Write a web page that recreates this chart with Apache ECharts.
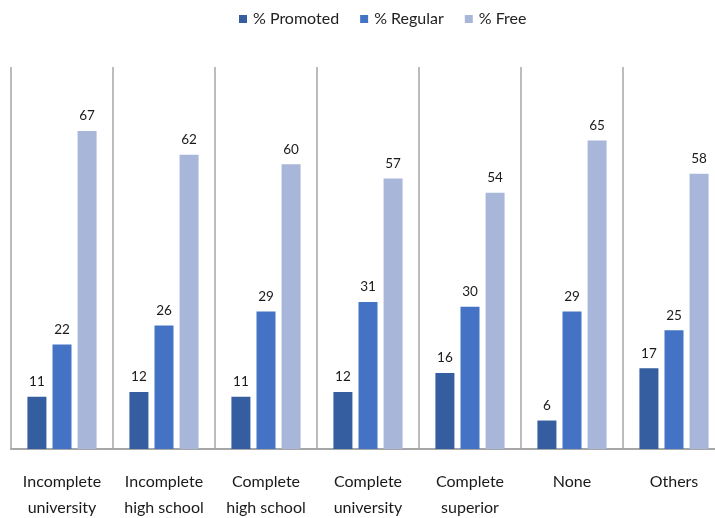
<!DOCTYPE html>
<html><head><meta charset="utf-8">
<script src="https://cdn.jsdelivr.net/npm/echarts@6/dist/echarts.min.js"></script>
<style>html,body{margin:0;padding:0;background:#fff}#c{width:715px;height:518px}</style>
</head><body><div id="c"></div>
<script>
const categories = ["Incomplete\nuniversity","Incomplete\nhigh school","Complete\nhigh school","Complete\nuniversity","Complete\nsuperior","None","Others"];
const promoted = [11,12,11,12,16,6,17];
const regular = [22,26,29,31,30,29,25];
const free = [67,62,60,57,54,65,58];
const seriesNames = ["% Promoted","% Regular","% Free"];
const colors = ["#355ea0","#4472c4","#a8b6da"];
const font = "Lato, 'Open Sans', sans-serif";
const chart = echarts.init(document.getElementById('c'));
const mk = (name, data, color) => ({
  name, type:'bar', data, barWidth:19, barGap:'32%',
  itemStyle:{color},
  label:{show:true, position:'top', distance:8, color:'#1a1a1a', fontSize:13.5, fontFamily:font}
});
chart.setOption({
  animation:false,
  color: colors,
  legend:{top:6, left:234, itemWidth:8, itemHeight:8, itemGap:21, icon:'rect',
    textStyle:{fontSize:16, color:'#222', fontFamily:font, padding:[0,0,0,1]}},
  grid:{left:11, top:67, width:714, height:382, outerBoundsMode:'none', containLabel:false},
  xAxis:{type:'category', data:categories,
    axisLine:{show:true, lineStyle:{color:'#a6a6a6', width:2}},
    axisTick:{show:false},
    splitLine:{show:true, lineStyle:{color:'#a6a6a6', width:1.5}},
    axisLabel:{color:'#1a1a1a', fontSize:16, fontFamily:font, margin:20, lineHeight:26, interval:0, verticalAlign:'top'}},
  yAxis:{type:'value', min:0, max:80.5, show:false, splitLine:{show:false}},
  series:[mk(seriesNames[0],promoted,colors[0]), mk(seriesNames[1],regular,colors[1]), mk(seriesNames[2],free,colors[2])]
});
</script></body></html>
